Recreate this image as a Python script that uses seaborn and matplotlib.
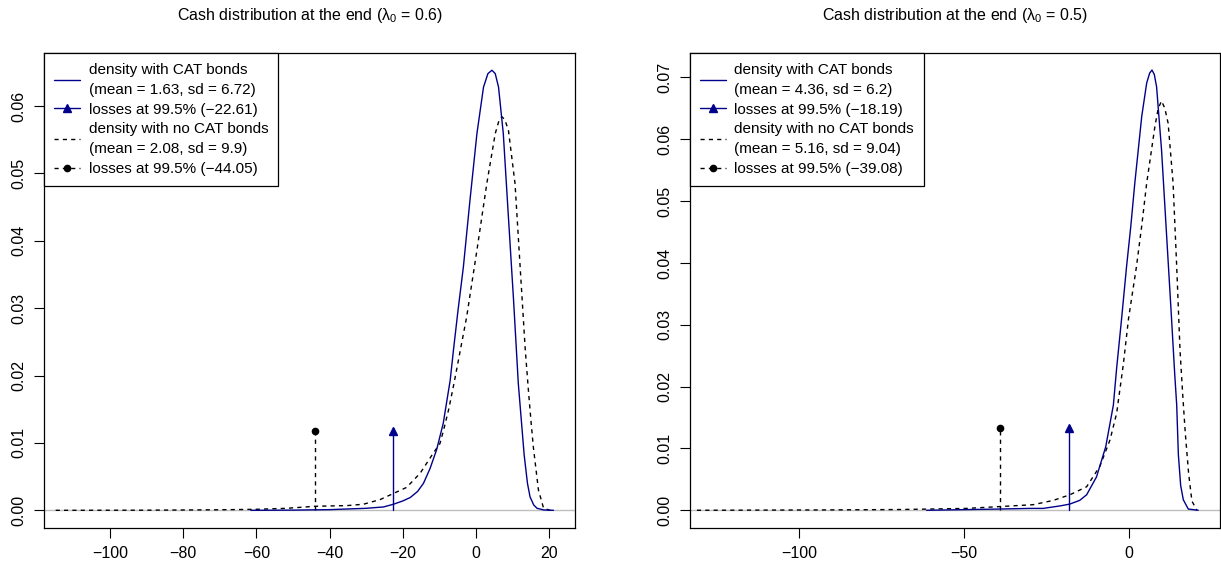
import pandas as pd
import seaborn as sns
import numpy as np
from matplotlib import pyplot as plt
from matplotlib.lines import Line2D

# values
cat06_x = [-61.5, -50, -40, -30, -25.3, -22.6, -20, -18, -16, -14.4, -12.6, -10.8, -9, -7.1, -6.2, -5,
           -3.5, -1.7, 0.2, 2.0, 3.2, 4.3, 5.2, 6.1, 7.4, 8.8, 10.2, 11.5, 12.3, 13.1, 14.0, 14.7, 15.7,
           16.6, 18.5, 21.1]
cat06_y = [0, 0.00003, 0.0001, 0.0003, 0.0005, 0.0009, 0.0014, 0.0019, 0.0028, 0.0040, 0.0062, 0.0090,
           0.0129, 0.0193, 0.0238, 0.0295, 0.0361, 0.0460, 0.0559, 0.0628, 0.0648, 0.0653, 0.0648, 0.0628,
           0.0559, 0.0435, 0.0312, 0.0188, 0.0135, 0.0082, 0.0040, 0.0020, 0.0008, 0.0003, 0.00005, 0]
nocat06_x = [-114.8, -90, -70, -60, -51.7, -44, -35.3, -30.8, -26.2, -22.6, -19, -15.3, -11.7, -9.9, -8.9,
             -7.5, -6.0, -2.6, 0.2, 2.9, 5.2, 6.2, 7.0, 7.8, 8.8, 10.6, 12.0, 13.4, 14.3, 15.0, 15.6, 17.0,
             18.4, 20.2]
nocat06_y = [0, 0.00002, 0.00008, 0.00015, 0.0003, 0.0006, 0.0007, 0.0009, 0.0016, 0.0025, 0.0034, 0.0055,
             0.0085, 0.0099, 0.0119, 0.0150, 0.0190, 0.0287, 0.0386, 0.0485, 0.0559, 0.0578, 0.0584, 0.0580,
             0.0564, 0.0485, 0.0361, 0.0238, 0.0175, 0.0130, 0.0094, 0.0030, 0.0003, 0]

cat05_x = [-61.4, -50, -39.2, -30, -26.1, -21, -18, -15, -12.9, -9.9, -7.1, -4.8, -3.8, -2.3, -0.8, 0.5,
           1.7, 3.8, 5.3, 6.2, 6.9, 7.6, 8.3, 9.8, 11.3, 12.8, 13.8, 14.4, 14.9, 15.6, 16.4, 17.9, 20.9]
cat05_y = [0, 0.0001, 0.0002, 0.0003, 0.0003, 0.0007, 0.0010, 0.0016, 0.0025, 0.0054, 0.0103, 0.0170,
           0.0230, 0.0310, 0.0394, 0.0460, 0.0529, 0.0637, 0.0691, 0.0707, 0.0712, 0.0705, 0.0685, 0.0583,
           0.0448, 0.0313, 0.0220, 0.0170, 0.0090, 0.0040, 0.0017, 0.0002, 0]
nocat05_x = [-131, -110, -90, -70, -60, -49.3, -39.2, -29.1, -23, -18, -12.9, -8.9, -6.8, -5.8, -3.8, -1.8,
             -0.2, 2.2, 3.8, 5.3, 7.8, 8.8, 9.8, 10.8, 11.8, 13.3, 14.4, 15.4, 16.3, 17.0, 18.0, 19.0, 20.5]
nocat05_y = [0, 0.00003, 0.00006, 0.00012, 0.0002, 0.0003, 0.0006, 0.0009, 0.0016, 0.0025, 0.0038, 0.0071,
             0.0100, 0.0114, 0.0157, 0.0235, 0.0310, 0.0394, 0.0460, 0.0529, 0.0621, 0.0650, 0.0662, 0.0650,
             0.0626, 0.0529, 0.0394, 0.0259, 0.0180, 0.0125, 0.0060, 0.0015, 0]

lambdas = ["0.6", "0.5"]
means_cat = [1.63, 4.36]
sds_cat = [6.72, 6.2]
means_nocat = [2.08, 5.16]
sds_nocat = [9.9, 9.04]
var_cat = [-22.61, -18.19]
var_nocat = [-44.05, -39.08]
var_height = [0.0118, 0.0133]
xticks = [[-100, -80, -60, -40, -20, 0, 20], [-100, -50, 0]]
yticks = [[0, 0.01, 0.02, 0.03, 0.04, 0.05, 0.06], [0, 0.01, 0.02, 0.03, 0.04, 0.05, 0.06, 0.07]]
xlims = [(-117.9, 27.0), (-133.1, 27.6)]
ylims = [(-0.00258, 0.0679), (-0.00282, 0.0740)]

curves = [(cat06_x, cat06_y, nocat06_x, nocat06_y), (cat05_x, cat05_y, nocat05_x, nocat05_y)]

sns.set_style("ticks")
plt.rcParams['font.family'] = ['Liberation Sans', 'DejaVu Sans']
plt.rcParams['mathtext.fontset'] = 'custom'
plt.rcParams['mathtext.rm'] = 'Liberation Sans'
plt.rcParams['mathtext.it'] = 'Liberation Sans:italic'
plt.rcParams['text.color'] = 'black'
plt.rcParams['xtick.color'] = 'black'
plt.rcParams['ytick.color'] = 'black'

blue = "#00008B"
dash = (0, (3, 3))
fig = plt.figure(figsize=(12.21, 5.70), dpi=100)
positions = [[0.0363, 0.0742, 0.4347, 0.8333], [0.5651, 0.0742, 0.4343, 0.8333]]

for i in range(2):
    ax = fig.add_axes(positions[i])
    cx, cy, nx, ny = curves[i]
    ax.axhline(0, color="#BEBEBE", lw=1, zorder=1)
    sns.lineplot(x=cx, y=cy, ax=ax, color=blue, lw=1, zorder=3)
    sns.lineplot(x=nx, y=ny, ax=ax, color="black", lw=1, linestyle=dash, zorder=2)
    ax.plot([var_cat[i], var_cat[i]], [0, var_height[i]], color=blue, lw=1)
    ax.plot(var_cat[i], var_height[i], marker="^", color=blue, ms=6)
    ax.plot([var_nocat[i], var_nocat[i]], [0, var_height[i]], color="black", lw=1, linestyle=dash)
    ax.plot(var_nocat[i], var_height[i], marker="o", color="black", ms=4.5)

    ax.set_xlim(xlims[i])
    ax.set_ylim(ylims[i])
    ax.set_xticks(xticks[i])
    ax.set_yticks(yticks[i])
    ax.set_yticklabels(["%.2f" % v for v in yticks[i]], rotation=90, va="center")
    ax.tick_params(labelsize=11.5, length=7, width=0.8, pad=6, color="black", labelcolor="black")
    for s in ax.spines.values():
        s.set_visible(True)
        s.set_color("black")
        s.set_linewidth(0.9)
    ax.set_title("Cash distribution at the end (\u03bb${}_0$ = " + lambdas[i] + ")", fontsize=11.5, pad=23.5,
                 color="black")

    handles = [Line2D([], [], color=blue, lw=1),
               Line2D([], [], color=blue, lw=1, marker="^", ms=6),
               Line2D([], [], color="black", lw=1, linestyle=dash),
               Line2D([], [], color="black", lw=1, linestyle=dash, marker="o", ms=4.5)]
    labels = ["density with CAT bonds\n(mean = %s, sd = %s)" % (means_cat[i], sds_cat[i]),
              "losses at 99.5%% (\u2212%.2f)" % abs(var_cat[i]),
              "density with no CAT bonds\n(mean = %s, sd = %s)" % (means_nocat[i], sds_nocat[i]),
              "losses at 99.5%% (\u2212%.2f)" % abs(var_nocat[i])]
    leg = ax.legend(handles, labels, loc="upper left", bbox_to_anchor=(0, 1), borderaxespad=0,
                    fontsize=11, fancybox=False, framealpha=1, edgecolor="black",
                    handlelength=1.7, handletextpad=0.55, labelspacing=0.38, borderpad=0.65)
    for t in leg.get_texts():
        t.set_linespacing(1.55)
        t.set_color("black")
    leg.get_frame().set_linewidth(0.9)

plt.savefig("out.png", dpi=100)
